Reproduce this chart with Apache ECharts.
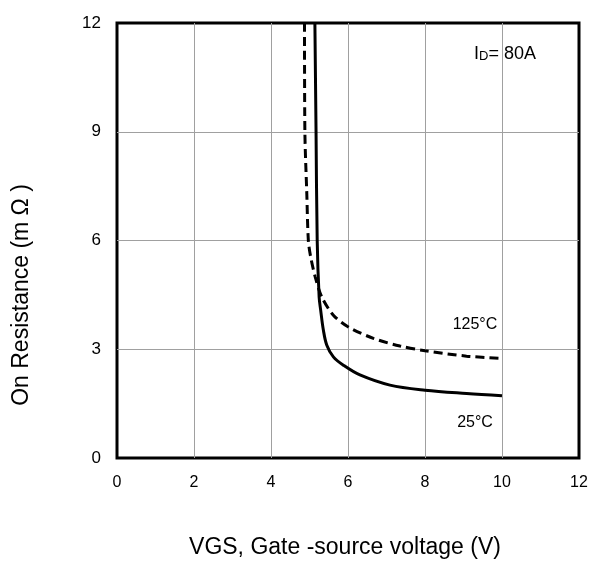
<!DOCTYPE html>
<html><head><meta charset="utf-8">
<script src="https://cdn.jsdelivr.net/npm/echarts@6/dist/echarts.min.js"></script>
<style>html,body{margin:0;padding:0;background:#fff}#c{width:591px;height:561px}</style>
</head><body><div id="c"></div>
<script>
const xTicks = [0, 2, 4, 6, 8, 10, 12];
const yTicks = [0, 3, 6, 9, 12];
const vgs25 = [5.14, 5.17, 5.20, 5.25, 5.29, 5.36, 5.45, 5.62, 5.88, 6.31, 7.09, 8.0, 9.08, 10.0];
const r25   = [12.0, 9.0, 6.0, 4.44, 4.08, 3.53, 3.11, 2.79, 2.56, 2.29, 2.01, 1.87, 1.78, 1.72];
const vgs125 = [4.87, 4.88, 4.93, 4.97, 5.03, 5.15, 5.32, 5.62, 6.0, 6.66, 7.35, 8.0, 9.08, 10.0];
const r125   = [12.0, 9.0, 7.29, 6.0, 5.55, 4.99, 4.44, 3.94, 3.62, 3.30, 3.09, 2.96, 2.81, 2.75];
const labels = { xTitle: 'VGS, Gate -source voltage (V)', yTitle: 'On Resistance (m Ω )', t125: '125°C', t25: '25°C' };

const font = 'Liberation Sans, Arial, sans-serif';
const chart = echarts.init(document.getElementById('c'));
chart.setOption({
  animation: false,
  textStyle: { fontFamily: font },
  grid: { left: 117, right: 12, top: 23, bottom: 103, show: true, borderColor: '#000', borderWidth: 3, backgroundColor: 'transparent' },
  xAxis: {
    type: 'value', min: 0, max: 12, interval: 2,
    axisLine: { show: false }, axisTick: { show: false },
    axisLabel: { color: '#000', fontSize: 16, margin: 17, fontFamily: font },
    splitLine: { show: true, showMinLine: false, showMaxLine: false, lineStyle: { color: '#a0a0a0', width: 1 } }
  },
  yAxis: {
    type: 'value', min: 0, max: 12, interval: 3,
    axisLine: { show: false }, axisTick: { show: false },
    axisLabel: { color: '#000', fontSize: 17, margin: 16, fontFamily: font },
    splitLine: { show: true, showMinLine: false, showMaxLine: false, lineStyle: { color: '#a0a0a0', width: 1 } }
  },
  series: [
    { type: 'line', data: vgs25.map((v, i) => [v, r25[i]]), smooth: 0.35, showSymbol: false,
      lineStyle: { color: '#000', width: 3 } },
    { type: 'line', data: vgs125.map((v, i) => [v, r125[i]]), smooth: 0.3, showSymbol: false,
      lineStyle: { color: '#000', width: 3, type: [9, 5] } }
  ],
  graphic: [
    { type: 'text', x: 345, y: 548, style: { text: labels.xTitle, fontSize: 23, fontFamily: font, fill: '#000', align: 'center', verticalAlign: 'middle' } },
    { type: 'text', x: 22, y: 295, rotation: Math.PI / 2, style: { text: labels.yTitle, fontSize: 23, fontFamily: font, fill: '#000', align: 'center', verticalAlign: 'middle' } },
    { type: 'text', x: 474, y: 54, style: { text: '{a|I}{b|D}{a|= 80A}', verticalAlign: 'middle', rich: { a: { fontSize: 18, fontFamily: font, fill: '#000' }, b: { fontSize: 13, fontFamily: font, fill: '#000', padding: [4, 0, 0, 0] } } } },
    { type: 'text', x: 475, y: 325, style: { text: labels.t125, fontSize: 16, fontFamily: font, fill: '#000', align: 'center', verticalAlign: 'middle' } },
    { type: 'text', x: 475, y: 423, style: { text: labels.t25, fontSize: 16, fontFamily: font, fill: '#000', align: 'center', verticalAlign: 'middle' } }
  ]
});
</script></body></html>
